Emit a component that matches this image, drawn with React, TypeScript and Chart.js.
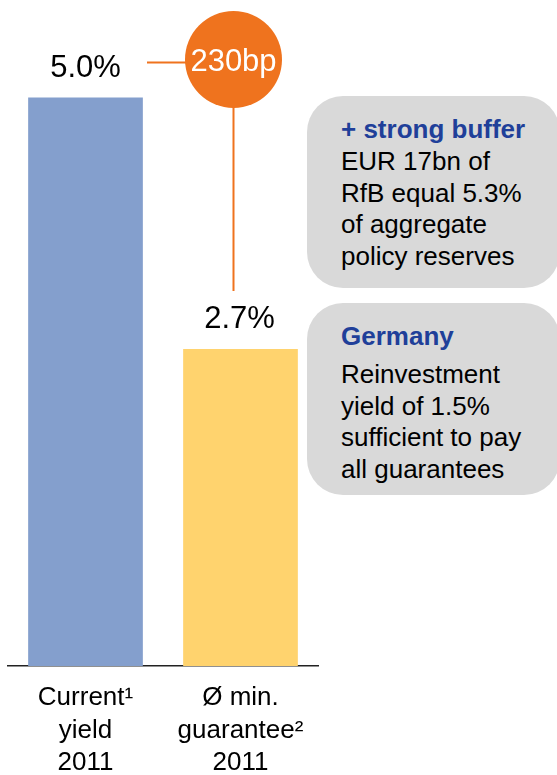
import React, { useEffect, useRef } from "react";
import { Chart, registerables } from "chart.js";

Chart.register(...registerables);

const categories: string[][] = [
  ["Current¹", "yield", "2011"],
  ["Ø min.", "guarantee²", "2011"],
];
const values: number[] = [5.0, 2.7];
const valueLabels: string[] = ["5.0%", "2.7%"];
const barColors: string[] = ["#849FCD", "#FFD36E"];
const spreadLabel = "230bp";
const box1Title = "+ strong buffer";
const box1Lines: string[] = ["EUR 17bn of", "RfB equal 5.3%", "of aggregate", "policy reserves"];
const box2Title = "Germany";
const box2Lines: string[] = ["Reinvestment", "yield of 1.5%", "sufficient to pay", "all guarantees"];

const FONT = "'Liberation Sans', Arial, Helvetica, sans-serif";
const ORANGE = "#EF731E";

const annotate = {
  id: "annotate",
  afterDraw(chart: any) {
    const ctx = chart.ctx;
    const xs = chart.scales.x;
    const ys = chart.scales.y;
    const x1 = xs.getPixelForValue(0);
    const x2 = xs.getPixelForValue(1);
    const t1 = ys.getPixelForValue(values[0]);
    const t2 = ys.getPixelForValue(values[1]);
    ctx.save();
    // value labels
    ctx.fillStyle = "#000";
    ctx.font = `31px ${FONT}`;
    ctx.textAlign = "center";
    ctx.textBaseline = "alphabetic";
    ctx.fillText(valueLabels[0], x1, t1 - 20.5);
    ctx.fillText(valueLabels[1], x2 - 1, t2 - 20.5);
    // circle
    const cx = x2 - 7;
    const cy = t1 - 38;
    const r = 48.5;
    ctx.strokeStyle = ORANGE;
    ctx.lineWidth = 2;
    ctx.beginPath();
    ctx.moveTo(x1 + 61.5, cy + 3);
    ctx.lineTo(cx - r + 2, cy + 3);
    ctx.moveTo(cx, cy + r - 2);
    ctx.lineTo(cx, t2 - 58);
    ctx.stroke();
    ctx.fillStyle = ORANGE;
    ctx.beginPath();
    ctx.arc(cx, cy, r, 0, Math.PI * 2);
    ctx.fill();
    ctx.fillStyle = "#fff";
    ctx.font = `31px ${FONT}`;
    ctx.fillText(spreadLabel, cx, cy + 12);
    ctx.restore();
  },
};

const boxStyle = (top: number): React.CSSProperties => ({
  position: "absolute",
  left: 307,
  top,
  width: 253,
  height: 192,
  borderRadius: 36,
  background: "#D9D9D9",
  boxSizing: "border-box",
  paddingLeft: 34,
  paddingTop: 18,
  fontFamily: FONT,
  fontSize: 26,
  lineHeight: "31.75px",
  color: "#000",
  whiteSpace: "nowrap",
});

export default function App() {
  const ref = useRef<HTMLCanvasElement | null>(null);
  useEffect(() => {
    document.body.style.margin = "0";
    const chart = new Chart(ref.current as HTMLCanvasElement, {
      type: "bar",
      data: {
        labels: categories,
        datasets: [
          {
            data: values,
            backgroundColor: barColors,
            borderWidth: 0,
            base: -0.2,
            categoryPercentage: 1,
            barPercentage: 0.74,
          } as any,
        ],
      },
      options: {
        animation: false,
        responsive: false,
        layout: { padding: { left: 8, right: 239, top: 10, bottom: 0 } },
        plugins: { legend: { display: false }, tooltip: { enabled: false } },
        scales: {
          x: {
            grid: { display: false, drawTicks: false },
            border: { display: true, color: "#222", width: 1.5 },
            ticks: {
              color: "#000",
              font: { family: FONT, size: 26, lineHeight: 1.25 },
              padding: 16,
              maxRotation: 0,
              autoSkip: false,
            },
            afterFit: (scale: any) => {
              scale.height = 109;
            },
          },
          y: { display: false, min: -0.2, max: 5.8 },
        },
      },
      plugins: [annotate],
    });
    return () => chart.destroy();
  }, []);

  return (
    <div style={{ position: "relative", width: 557, height: 775, overflow: "hidden", background: "#fff" }}>
      <canvas ref={ref} width={557} height={775} style={{ position: "absolute", left: 0, top: 0 }} />
      <div style={boxStyle(96)}>
        <div style={{ fontWeight: "bold", color: "#203F99" }}>{box1Title}</div>
        {box1Lines.map((l) => (
          <div key={l}>{l}</div>
        ))}
      </div>
      <div style={boxStyle(303)}>
        <div style={{ fontWeight: "bold", color: "#203F99", marginBottom: 6 }}>{box2Title}</div>
        {box2Lines.map((l) => (
          <div key={l}>{l}</div>
        ))}
      </div>
    </div>
  );
}
